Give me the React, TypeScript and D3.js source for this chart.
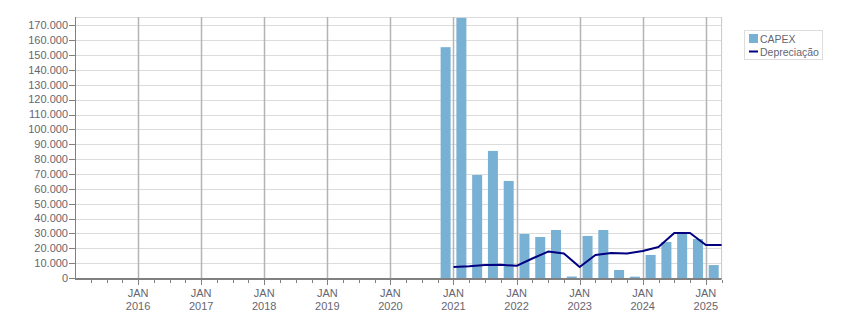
import React from "react";
import * as d3 from "d3";

// Quarter index 0 = JAN 2015
const capexQuarters = [
  "2020-Q4", "2021-Q1", "2021-Q2", "2021-Q3", "2021-Q4",
  "2022-Q1", "2022-Q2", "2022-Q3", "2022-Q4",
  "2023-Q1", "2023-Q2", "2023-Q3", "2023-Q4",
  "2024-Q1", "2024-Q2", "2024-Q3", "2024-Q4", "2025-Q1",
];
const capexIndex = [23, 24, 25, 26, 27, 28, 29, 30, 31, 32, 33, 34, 35, 36, 37, 38, 39, 40];
const capexValues = [
  155300, 175000, 69300, 85500, 65300,
  29600, 27600, 32300, 1000,
  28300, 32300, 5400, 900,
  15500, 24200, 30300, 26200, 8700,
];

const depDates = [
  "2021-01", "2021-04", "2021-07", "2021-10",
  "2022-01", "2022-04", "2022-07", "2022-10",
  "2023-01", "2023-04", "2023-07", "2023-10",
  "2024-01", "2024-04", "2024-07", "2024-10",
  "2025-01", "2025-04",
];
const depIndex = [24, 25, 26, 27, 28, 29, 30, 31, 32, 33, 34, 35, 36, 37, 38, 39, 40, 41];
const depValues = [
  7400, 7900, 8800, 8900,
  8200, 13100, 17800, 16500,
  7400, 15500, 16800, 16500,
  18200, 20900, 30300, 30300,
  22200, 22200,
];

const yearLabels = ["2016", "2017", "2018", "2019", "2020", "2021", "2022", "2023", "2024", "2025"];
const yearIndex = [4, 8, 12, 16, 20, 24, 28, 32, 36, 40];
const yTicks = d3.range(0, 170001, 10000);

const seriesNames = ["CAPEX", "Depreciação"];

const BAR = "#78B1D3";
const LINE = "#000080";
const TXT = "#666670";
const FONT = "'Liberation Sans', Arial, sans-serif";

export default function App() {
  const left = 75;
  const right = 721.6;
  const top = 17;
  const bottom = 278;

  const x = d3.scaleLinear().domain([0, 41]).range([left, right]);
  const y = d3.scaleLinear().domain([0, 175600]).range([bottom, top]);
  const fmt = d3.formatLocale({ decimal: ",", thousands: ".", grouping: [3], currency: ["", ""] }).format(",d");

  const line = d3
    .line<number>()
    .x((_, i) => x(depIndex[i]))
    .y((d) => y(d));

  const minorTicks = d3.range(1, 42);

  return (
    <svg width={851} height={313} style={{ position: "absolute", left: 0, top: 0, background: "#fff" }} fontFamily={FONT}>
      {/* horizontal grid */}
      {yTicks.map((t) => (
        <line key={"g" + t} x1={left} x2={right} y1={Math.round(y(t)) + 0.5} y2={Math.round(y(t)) + 0.5} stroke="#dcdcdc" strokeWidth={1} />
      ))}
      <line x1={left} x2={right} y1={top + 0.5} y2={top + 0.5} stroke="#dcdcdc" />
      {/* vertical year grid */}
      {yearIndex.map((q) => (
        <line key={"v" + q} x1={Math.round(x(q)) + 0.5} x2={Math.round(x(q)) + 0.5} y1={top} y2={bottom} stroke="#b4b4b4" strokeWidth={1.5} />
      ))}
      <line x1={right} x2={right} y1={top} y2={bottom + 1} stroke="#c8c8c8" strokeWidth={1} />
      {/* bars */}
      {capexValues.map((v, i) => (
        <rect
          key={capexQuarters[i]}
          x={x(capexIndex[i] + 0.5) - 5}
          width={10}
          y={Math.max(y(v), top)}
          height={bottom - Math.max(y(v), top)}
          fill={BAR}
        />
      ))}
      {/* depreciation line */}
      <path d={line(depValues) || ""} fill="none" stroke={LINE} strokeWidth={2} strokeLinejoin="round" />
      {/* y axis */}
      <line x1={left + 0.5} x2={left + 0.5} y1={top} y2={bottom + 1} stroke="#808080" strokeWidth={1} />
      {yTicks.map((t) => (
        <g key={"t" + t}>
          <line x1={left - 6} x2={left} y1={Math.round(y(t)) + 0.5} y2={Math.round(y(t)) + 0.5} stroke="#808080" />
          <text x={left - 7} y={y(t)} dy="0.35em" textAnchor="end" fontSize={11} fill={TXT}>
            {fmt(t)}
          </text>
        </g>
      ))}
      {/* x axis */}
      <line x1={left} x2={right} y1={bottom + 1} y2={bottom + 1} stroke="#808080" strokeWidth={2} />
      {minorTicks.map((q) => (
        <line key={"m" + q} x1={Math.round(x(q)) + 0.5} x2={Math.round(x(q)) + 0.5} y1={bottom + 2} y2={yearIndex.includes(q) ? bottom + 7 : bottom + 5} stroke="#808080" />
      ))}
      {yearIndex.map((q, i) => (
        <g key={"xl" + q}>
          <text x={x(q)} y={297} textAnchor="middle" fontSize={11} fill={TXT}>JAN</text>
          <text x={x(q)} y={310} textAnchor="middle" fontSize={11} fill={TXT}>{yearLabels[i]}</text>
        </g>
      ))}
      {/* legend */}
      <rect x={744.5} y={30.5} width={78} height={29} fill="#fff" stroke="#dddddd" />
      <rect x={749} y={34} width={9} height={9} fill={BAR} />
      <text x={760} y={42.5} fontSize={10.5} fill={TXT}>{seriesNames[0]}</text>
      <line x1={749} x2={758} y1={51.5} y2={51.5} stroke={LINE} strokeWidth={2} />
      <text x={760} y={55.5} fontSize={10.5} fill={TXT}>{seriesNames[1]}</text>
    </svg>
  );
}
